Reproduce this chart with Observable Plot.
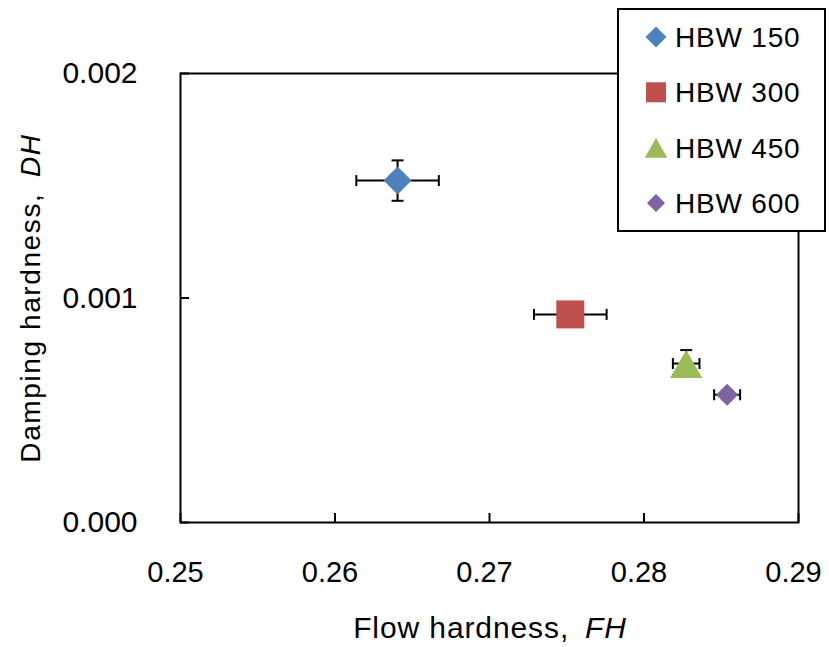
<!DOCTYPE html>
<html>
<head>
<meta charset="utf-8">
<script src="https://cdn.jsdelivr.net/npm/d3@7"></script>
<script src="https://cdn.jsdelivr.net/npm/@observablehq/plot@0.6"></script>
<style>
  body { margin: 0; background: #fff; }
  #chart { width: 829px; height: 647px; }
</style>
</head>
<body>
<div id="chart"></div>
<script>
// Flow hardness vs damping hardness for four Brinell hardness grades
const series = ["HBW 150", "HBW 300", "HBW 450", "HBW 600"];
const flowHardness = [0.26405, 0.27523, 0.28273, 0.28538];
const flowError = [0.00267, 0.00235, 0.00086, 0.00084];
const dampingHardness = [0.001523, 0.000927, 0.000708, 0.000569];
const dampingError = [0.00009, 0.00002, 0.00006, 0.00002];
const colors = ["#4F81BD", "#C0504D", "#9BBB59", "#8064A2"];
const symbols = ["diamond2", "square", "triangle", "diamond2"];
const markerR = [12.6, 15.8, 12, 9.9];
const legendR = [9.4, 11.3, 8.4, 8.1];
const xTicks = [0.25, 0.26, 0.27, 0.28, 0.29];
const yTicks = [0, 0.001, 0.002];

const rows = series.map((s, i) => ({
  s, x: flowHardness[i], y: dampingHardness[i], ex: flowError[i], ey: dampingError[i]
}));

// error-bar caps: short line symbols whose half-length equals r
const vCap = {draw(ctx, size) { const l = Math.sqrt(size / Math.PI); ctx.moveTo(0, -l); ctx.lineTo(0, l); }};
const hCap = {draw(ctx, size) { const l = Math.sqrt(size / Math.PI); ctx.moveTo(-l, 0); ctx.lineTo(l, 0); }};

const sans = "'Liberation Sans', Arial, sans-serif";

// the triangle symbol is drawn about its centroid; shift it so its box is centred
const symbolShift = s => (s === "triangle" ? 0.42 : 0);

const chart = Plot.plot({
  width: 829,
  height: 647,
  marginLeft: 180,
  marginRight: 31,
  marginTop: 73,
  marginBottom: 125,
  style: {background: "#fff", color: "#000"},
  x: {domain: [0.25, 0.29]},
  y: {domain: [0, 0.002]},
  marks: [
    Plot.frame({stroke: "#000", strokeWidth: 2}),
    // inner tick marks
    Plot.axisX(xTicks, {anchor: "bottom", tickSize: 9, dy: -9, fill: "none", stroke: "#000", strokeWidth: 2, label: null}),
    Plot.axisY(yTicks, {anchor: "left", tickSize: 9, dx: 9, fill: "none", stroke: "#000", strokeWidth: 2, label: null}),
    // tick labels
    Plot.axisX(xTicks, {anchor: "bottom", tickSize: 0, tickPadding: 39, dx: -5, tickFormat: d => d.toFixed(2),
      fontSize: 29, fontFamily: sans, label: null}),
    Plot.axisY(yTicks, {anchor: "left", tickSize: 0, tickPadding: 43, tickFormat: d => d.toFixed(3),
      fontSize: 30, fontFamily: sans, label: null}),
    // error bars
    Plot.ruleY(rows, {y: "y", x1: d => d.x - d.ex, x2: d => d.x + d.ex, stroke: "#000", strokeWidth: 2}),
    Plot.ruleX(rows, {x: "x", y1: d => d.y - d.ey, y2: d => d.y + d.ey, stroke: "#000", strokeWidth: 2}),
    Plot.dot(rows, {x: d => d.x - d.ex, y: "y", symbol: vCap, r: 5.5, fill: "none", stroke: "#000", strokeWidth: 2}),
    Plot.dot(rows, {x: d => d.x + d.ex, y: "y", symbol: vCap, r: 5.5, fill: "none", stroke: "#000", strokeWidth: 2}),
    Plot.dot(rows, {x: "x", y: d => d.y - d.ey, symbol: hCap, r: 6, fill: "none", stroke: "#000", strokeWidth: 2}),
    Plot.dot(rows, {x: "x", y: d => d.y + d.ey, symbol: hCap, r: 6, fill: "none", stroke: "#000", strokeWidth: 2}),
    // markers
    ...rows.map((d, i) => Plot.dot([d], {
      x: "x", y: "y", symbol: symbols[i], r: markerR[i],
      dy: symbolShift(symbols[i]) * markerR[i], fill: colors[i], stroke: "none"
    }))
  ]
});

document.getElementById("chart").append(chart);

const svg = d3.select(chart);

// axis titles
const yTitle = svg.append("text")
  .attr("transform", "translate(40,298) rotate(-90)")
  .attr("text-anchor", "middle")
  .attr("font-family", sans)
  .attr("font-size", 28)
  .attr("letter-spacing", 1.6)
  .attr("fill", "#000");
yTitle.append("tspan").text("Damping hardness,\u2002");
yTitle.append("tspan").attr("font-style", "italic").text("DH");

const xTitle = svg.append("text")
  .attr("x", 490).attr("y", 638)
  .attr("text-anchor", "middle")
  .attr("font-family", sans)
  .attr("font-size", 30)
  .attr("letter-spacing", 0.9)
  .attr("fill", "#000");
xTitle.append("tspan").text("Flow hardness,\u2002");
xTitle.append("tspan").attr("font-style", "italic").text("FH");

// legend box
const lg = svg.append("g");
lg.append("rect").attr("x", 618).attr("y", 9).attr("width", 207).attr("height", 222)
  .attr("fill", "#fff").attr("stroke", "#000").attr("stroke-width", 2);
const symbolTypes = {diamond2: d3.symbolDiamond2, square: d3.symbolSquare, triangle: d3.symbolTriangle};
series.forEach((s, i) => {
  const cy = 37 + i * 55.3;
  lg.append("path")
    .attr("transform", `translate(656,${cy + symbolShift(symbols[i]) * legendR[i]})`)
    .attr("d", d3.symbol(symbolTypes[symbols[i]], Math.PI * legendR[i] ** 2)())
    .attr("fill", colors[i]);
  lg.append("text")
    .attr("x", 675).attr("y", cy).attr("dy", "0.36em")
    .attr("text-anchor", "start")
    .attr("font-family", sans).attr("font-size", 28)
    .attr("letter-spacing", 0.8)
    .attr("fill", "#000")
    .text(s);
});
</script>
</body>
</html>
